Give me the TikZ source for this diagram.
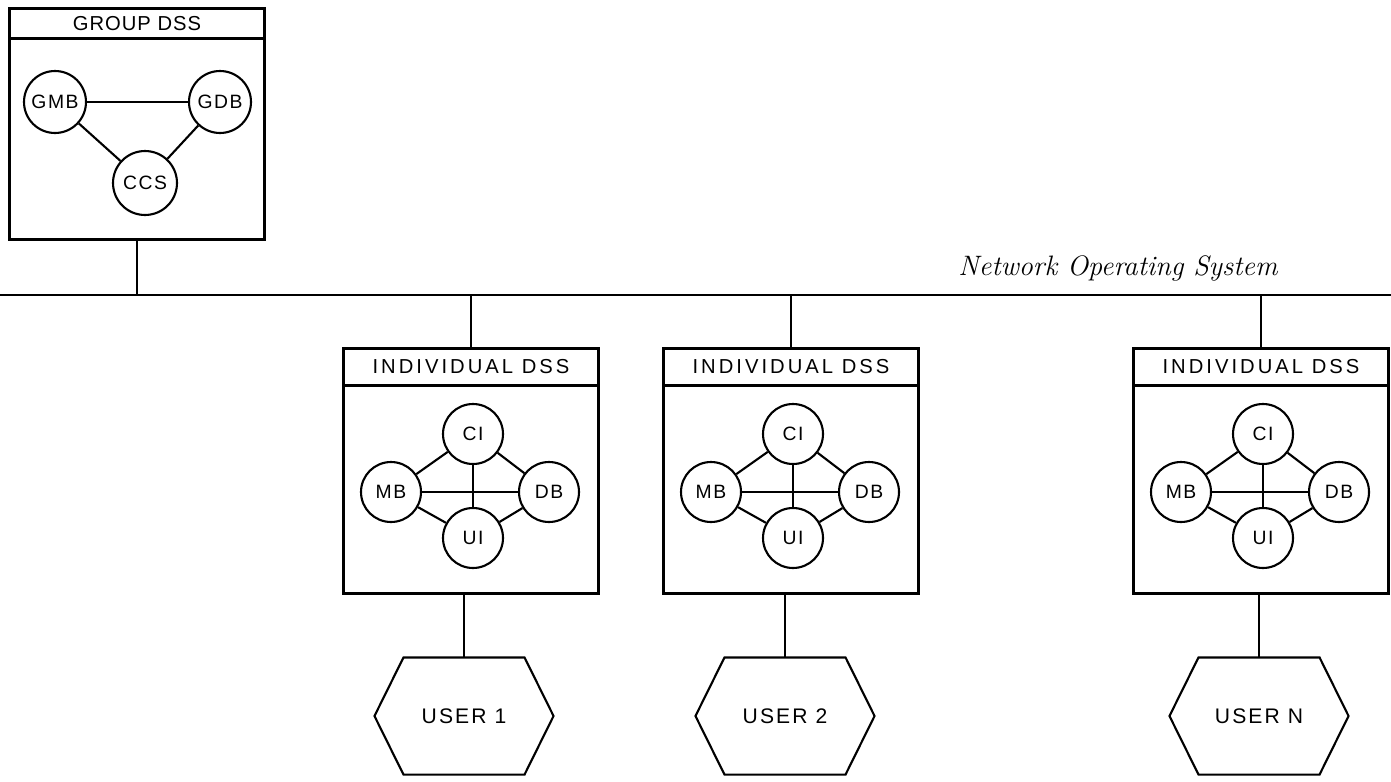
\documentclass[tikz,border=0pt]{standalone}
\usepackage{fontspec}
\setsansfont{Liberation Sans}
\usetikzlibrary{calc}

\begin{document}
\begin{tikzpicture}[x=0.02cm,y=-0.02cm,line width=1.2pt,
    dssbox/.style={draw,minimum width=5.1cm,minimum height=4.9cm,inner sep=0pt},
    unit/.style={draw,circle,minimum size=1.2cm,inner sep=0pt,
        font=\sffamily\fontsize{11}{13}\selectfont\addfontfeature{LetterSpace=8}},
    userbox/.style={minimum width=3.54cm,minimum height=2.3cm,inner sep=0pt,
        font=\sffamily\fontsize{12}{14}\selectfont\addfontfeature{LetterSpace=10}},
    head/.style={font=\sffamily\fontsize{11.5}{14}\selectfont\addfontfeature{LetterSpace=15}}]
\useasboundingbox (0,0) rectangle (1391,781);

% network bus
\coordinate (busL) at (0,295);
\coordinate (busR) at (1391,295);
\draw (busL) -- (busR);
\node[font=\itshape\fontsize{16}{18}\selectfont] (nos) at (1118,268) {Network Operating System};

% group DSS
\node[dssbox,minimum height=4.62cm] (group) at (137,124) {};
\draw ($(group.north west)+(0,31)$) -- ($(group.north east)+(0,31)$);
\node[head,font=\sffamily\fontsize{11.5}{14}\selectfont\addfontfeature{LetterSpace=5}] (grouplbl) at ($(group.north)+(0,16)$) {GROUP DSS};
\node[unit,minimum size=1.24cm] (gmb) at ($(group)+(-82,-22)$) {GMB};
\node[unit,minimum size=1.24cm] (gdb) at ($(group)+(83,-22)$) {GDB};
\node[unit,minimum size=1.28cm] (ccs) at ($(group)+(8,59)$) {CCS};
\draw (gmb) -- (gdb);
\draw (gmb) -- (ccs);
\draw (gdb) -- (ccs);
\draw (group.south) -- (group.south |- busL);

% individual DSS and users
\foreach \i/\x/\hx/\name in {1/471/464/1, 2/791/785/2, 3/1261/1259/N} {
    \node[dssbox] (ind\i) at (\x,471) {};
    \draw ($(ind\i.north west)+(0,38)$) -- ($(ind\i.north east)+(0,38)$);
    \node[head] (indlbl\i) at ($(ind\i.north)+(0,19)$) {INDIVIDUAL DSS};
    \node[unit] (ci\i) at ($(ind\i)+(2,-37)$) {CI};
    \node[unit] (mb\i) at ($(ind\i)+(-80,21)$) {MB};
    \node[unit] (db\i) at ($(ind\i)+(78,21)$) {DB};
    \node[unit] (ui\i) at ($(ind\i)+(2,67)$) {UI};
    \draw (ci\i) -- (mb\i);
    \draw (ci\i) -- (db\i);
    \draw (mb\i) -- (ui\i);
    \draw (db\i) -- (ui\i);
    \draw (mb\i) -- (db\i);
    \draw (ci\i) -- (ui\i);
    \draw (ind\i.north) -- (ind\i.north |- busL);

    \node[userbox] (user\i) at (\hx,716) {USER \name};
    \draw (user\i.west) -- ($(user\i.north west)+(29,0)$) -- ($(user\i.north east)+(-29,0)$)
        -- (user\i.east) -- ($(user\i.south east)+(-29,0)$) -- ($(user\i.south west)+(29,0)$) -- cycle;
    \draw (user\i.north) -- (user\i.north |- ind\i.south);
}
\end{tikzpicture}
\end{document}
